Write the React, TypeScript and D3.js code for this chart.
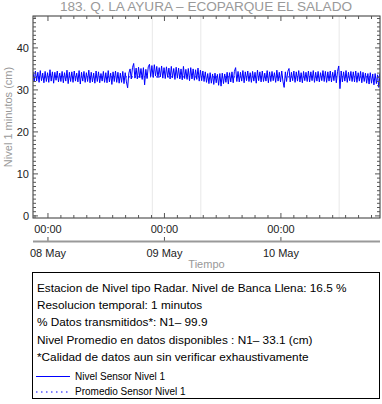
import React from "react";
import * as d3 from "d3";

const TITLE = "183. Q. LA AYURA – ECOPARQUE EL SALADO";
const Y_LABEL = "Nivel 1 minutos (cm)";
const X_LABEL = "Tiempo";
const START = new Date(2024, 4, 7, 20, 55);
const END = new Date(2024, 4, 10, 20, 25);
const STEP_MIN = 15;
const DAY_TICKS = [new Date(2024, 4, 8), new Date(2024, 4, 9), new Date(2024, 4, 10)];
const DAY_LABELS = ["08 May", "09 May", "10 May"];
const MARKERS = [new Date(2024, 4, 8, 21, 30), new Date(2024, 4, 9, 7, 30), new Date(2024, 4, 10, 12, 0)];
const Y_TICKS = [0, 10, 20, 30, 40];
const MEAN = 33.1;

const LEVEL = [
  34.3, 31.9, 34.5, 32.1, 34.2, 31.8, 34.6, 32.2, 34.0, 31.7, 34.4, 32.0,
  34.1, 31.8, 34.8, 32.1, 34.3, 31.6, 34.2, 32.3, 34.5, 31.9, 34.0, 32.0,
  34.4, 31.7, 34.1, 32.1, 34.7, 31.5, 34.2, 32.0, 34.3, 31.8, 34.5, 32.1,
  34.0, 31.9, 34.6, 31.4, 34.2, 32.1, 34.4, 31.8, 34.1, 32.0, 34.7, 31.7,
  34.2, 31.9, 34.0, 31.6, 34.5, 32.0, 34.3, 31.7, 33.9, 32.1, 34.4, 31.8,
  34.1, 31.7, 34.6, 31.9, 34.0, 31.3, 34.3, 32.0, 34.5, 31.8, 34.2, 31.6,
  34.0, 31.8, 34.4, 31.5, 34.1, 31.9, 30.5, 34.0, 35.0, 32.6, 35.3, 36.3,
  32.8, 35.2, 32.6, 35.4, 32.9, 35.1, 32.5, 35.3, 31.2, 34.9, 32.7, 35.5,
  36.1, 33.2, 35.8, 33.0, 36.0, 33.3, 35.6, 32.9, 35.3, 33.1, 35.7, 32.8,
  35.3, 32.7, 35.5, 33.0, 35.2, 32.6, 35.6, 32.9, 35.1, 32.5, 35.4, 32.8,
  35.2, 32.6, 35.0, 32.4, 35.6, 32.7, 34.9, 32.5, 35.1, 32.2, 35.3, 32.6,
  35.0, 32.3, 34.8, 32.5, 35.2, 32.1, 34.7, 32.2, 34.5, 32.0, 34.3, 31.8,
  33.9, 31.5, 34.1, 31.6, 33.8, 31.3, 34.0, 31.7, 33.7, 31.1, 33.9, 30.9,
  34.0, 31.5, 33.8, 31.8, 34.2, 31.4, 34.1, 31.9, 34.3, 31.7, 34.4, 35.3,
  32.0, 34.4, 31.9, 34.2, 32.1, 34.6, 31.7, 34.3, 32.2, 34.5, 32.0, 34.1,
  31.8, 34.4, 32.1, 34.2, 31.6, 34.7, 32.2, 34.3, 31.9, 34.5, 32.0, 34.0,
  32.1, 34.6, 31.7, 34.3, 32.0, 34.4, 32.2, 34.1, 31.8, 34.7, 32.1, 34.2,
  31.9, 34.5, 32.1, 30.6, 34.3, 32.0, 34.4, 35.1, 31.9, 34.2, 32.2, 34.5,
  31.8, 34.3, 32.1, 34.6, 31.9, 34.1, 31.7, 34.4, 32.2, 34.2, 32.0, 34.5,
  31.9, 34.3, 32.2, 34.6, 31.8, 34.2, 32.1, 34.4, 31.9, 34.1, 32.2, 34.6,
  32.0, 34.4, 31.8, 34.3, 32.1, 34.5, 31.9, 34.2, 32.2, 34.7, 31.7, 34.4,
  35.7, 30.3, 34.5, 31.9, 34.3, 32.1, 34.6, 31.8, 34.2, 32.2, 34.4, 32.0,
  34.3, 31.9, 34.5, 31.8, 34.1, 32.1, 34.4, 31.7, 34.2, 32.0, 34.0, 31.6,
  33.9, 31.4, 34.1, 31.6, 33.8, 31.2, 33.9, 31.5, 33.6, 30.6, 33.8, 31.4,
];

const INFO_LINES = [
  "Estacion de Nivel tipo Radar. Nivel de Banca Llena: 16.5 %",
  "Resolucion temporal: 1 minutos",
  "% Datos transmitidos*: N1– 99.9",
  "Nivel Promedio en datos disponibles : N1– 33.1 (cm)",
  "*Calidad de datos aun sin verificar exhaustivamente",
];
const LEGEND = ["Nivel Sensor Nivel 1", "Promedio Sensor Nivel 1"];

const W = 382;
const H = 404;
const L = 33, R = 380, T = 16, B = 218;
const FONT = "'Liberation Sans', Arial, Helvetica, sans-serif";

export default function App() {
  const x = d3.scaleTime().domain([START, END]).range([L, R]);
  const y = d3.scaleLinear().domain([-0.5, 47.6]).range([B, T]);
  const data = LEVEL.map((v, i) => ({ t: new Date(START.getTime() + i * STEP_MIN * 60000), v }));
  const line = d3.line<{ t: Date; v: number }>().x((d) => x(d.t)).y((d) => y(d.v));
  const minorY = d3.range(0, 48, 1);
  const minorX: Date[] = [];
  const minorStep = 160 * 60000;
  for (let k = -2; k < 30; k++) {
    const t = new Date(DAY_TICKS[0].getTime() + k * minorStep);
    if (t >= START && t <= END) minorX.push(t);
  }
  return (
    <svg width={W} height={H} style={{ position: "absolute", left: 0, top: 0, background: "#fff" }} fontFamily={FONT}>
      <defs>
        <clipPath id="clip">
          <rect x={L} y={T} width={R - L} height={B - T} />
        </clipPath>
      </defs>
      <text x={206} y={11} textAnchor="middle" fontSize={13.6} fill="#999">{TITLE}</text>
      {MARKERS.map((m, i) => (
        <line key={i} x1={x(m)} x2={x(m)} y1={T} y2={B} stroke="#e8e8e8" strokeWidth={1} />
      ))}
      <g clipPath="url(#clip)">
        <path d={line(data) || ""} fill="none" stroke="#0000ff" strokeWidth={1} />
        <line x1={L} x2={R} y1={y(MEAN)} y2={y(MEAN)} stroke="#0000ff" strokeDasharray="1,2" />
      </g>
      <rect x={L} y={T} width={R - L} height={B - T} fill="none" stroke="#333" strokeWidth={1} />
      {minorY.map((v) => {
        const major = v % 10 === 0;
        const len = major ? 5 : 3;
        return (
          <g key={v}>
            <line x1={L} x2={L + len} y1={y(v)} y2={y(v)} stroke="#555" />
            <line x1={R} x2={R - len} y1={y(v)} y2={y(v)} stroke="#555" />
          </g>
        );
      })}
      {Y_TICKS.map((v) => (
        <text key={v} x={29} y={y(v) + 4} textAnchor="end" fontSize={11} fill="#222">{v}</text>
      ))}
      {minorX.map((t, i) => {
        const major = t.getHours() === 0 && t.getMinutes() === 0;
        const len = major ? 5 : 3;
        return (
          <g key={i}>
            <line x1={x(t)} x2={x(t)} y1={B} y2={B - len} stroke="#555" />
            <line x1={x(t)} x2={x(t)} y1={T} y2={T + len} stroke="#555" />
          </g>
        );
      })}
      {DAY_TICKS.map((t, i) => (
        <g key={i}>
          <text x={x(t)} y={233} textAnchor="middle" fontSize={11} fill="#222">00:00</text>
          <line x1={x(t)} x2={x(t)} y1={237} y2={241} stroke="#555" />
          <text x={x(t)} y={257} textAnchor="middle" fontSize={11} fill="#222">{DAY_LABELS[i]}</text>
        </g>
      ))}
      <line x1={L} x2={R} y1={241.5} y2={241.5} stroke="#999" strokeWidth={2} />
      <text x={(L + R) / 2} y={268} textAnchor="middle" fontSize={11} fill="#999">{X_LABEL}</text>
      <text transform={`translate(12,${(T + B) / 2}) rotate(-90)`} textAnchor="middle" fontSize={11} fill="#999">{Y_LABEL}</text>
      <rect x={32.5} y={272.5} width={347} height={126} fill="#fff" stroke="#000" strokeWidth={1} />
      {INFO_LINES.map((s, i) => (
        <text key={i} x={37} y={292 + i * 17.2} fontSize={11.8} fill="#000">{s}</text>
      ))}
      <line x1={36} x2={70} y1={376.5} y2={376.5} stroke="#0000ff" strokeWidth={1} />
      <text x={75} y={379.5} fontSize={10} fill="#000">{LEGEND[0]}</text>
      <line x1={36} x2={70} y1={392} y2={392} stroke="#0000ff" strokeDasharray="1.5,3.5" strokeWidth={1.2} />
      <text x={75} y={395} fontSize={10} fill="#000">{LEGEND[1]}</text>
    </svg>
  );
}
